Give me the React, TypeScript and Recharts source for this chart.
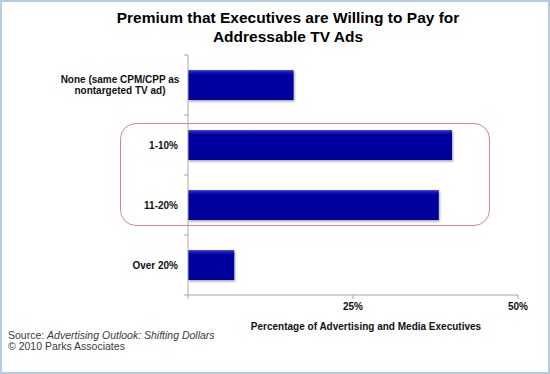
import React from "react"
import { BarChart, Bar, XAxis, YAxis, Label } from "recharts"

const categories = ["None (same CPM/CPP as\nnontargeted TV ad)", "1-10%", "11-20%", "Over 20%"]
const premiumShare = [16, 40, 38, 7]
const xTicks = [0, 25, 50]
const xTickLabels = ["", "25%", "50%"]

const data = categories.map((name, i) => ({ name, value: premiumShare[i] }))

const W = 550
const H = 374
const MARGIN = { top: 55, right: 32, bottom: 49, left: 8 }
const X_AXIS_H = 30
const Y_AXIS_W = 180
const AXIS_COLOR = "#a6a6a6"
const FONT = "'Liberation Sans', Arial, sans-serif"

const bandSize = (H - MARGIN.top - MARGIN.bottom - X_AXIS_H) / categories.length

function CategoryTick(props: any) {
  const { x, y, payload, index } = props
  const axisX = x + 10
  const lines = String(payload.value).split("\n")
  const multi = lines.length > 1
  return (
    <g>
      <line x1={axisX - 4} x2={axisX} y1={y - bandSize / 2} y2={y - bandSize / 2} stroke={AXIS_COLOR} />
      {index === categories.length - 1 && (
        <line x1={axisX - 4} x2={axisX} y1={y + bandSize / 2} y2={y + bandSize / 2} stroke={AXIS_COLOR} />
      )}
      <text
        x={multi ? x - 58 : x}
        y={y}
        textAnchor={multi ? "middle" : "end"}
        fontFamily={FONT}
        fontSize={10}
        fontWeight="bold"
        fill="#111"
      >
        {lines.map((l, i) => (
          <tspan key={i} x={multi ? x - 58 : x} dy={i === 0 ? (-(lines.length - 1) * 11) / 2 + 3.5 : 11}>
            {l}
          </tspan>
        ))}
      </text>
    </g>
  )
}

export default function App() {
  return (
    <div
      style={{
        position: "absolute",
        left: 0,
        top: 0,
        width: W,
        height: H,
        background: "#fff",
        border: "2px solid #b7cae4",
        boxSizing: "border-box",
        fontFamily: FONT,
      }}
    >
      <div
        style={{
          position: "absolute",
          left: 286,
          top: 6,
          transform: "translateX(-50%)",
          textAlign: "center",
          whiteSpace: "nowrap",
          fontSize: 15.5,
          fontWeight: "bold",
          lineHeight: "19px",
          color: "#000",
        }}
      >
        Premium that Executives are Willing to Pay for
        <br />
        Addressable TV Ads
      </div>

      <div style={{ position: "absolute", left: -2, top: -2 }}>
        <BarChart width={W} height={H} data={data} layout="vertical" margin={MARGIN} barCategoryGap="25%">
          <defs>
            <linearGradient id="barFill" x1="0" y1="0" x2="0" y2="1">
              <stop offset="0%" stopColor="#4a4ae8" />
              <stop offset="8%" stopColor="#1414b0" />
              <stop offset="15%" stopColor="#0606a0" />
              <stop offset="100%" stopColor="#04049a" />
            </linearGradient>
            <filter id="barShadow" x="-5%" y="-10%" width="115%" height="140%">
              <feDropShadow dx="1" dy="1.5" stdDeviation="0.8" floodColor="#000" floodOpacity="0.35" />
            </filter>
          </defs>
          <XAxis
            type="number"
            domain={[0, 50]}
            ticks={xTicks}
            tickFormatter={(v: number) => xTickLabels[xTicks.indexOf(v)] ?? ""}
            height={X_AXIS_H}
            stroke={AXIS_COLOR}
            tickSize={4}
            tickMargin={4}
            tick={{ fill: "#111", fontSize: 10, fontWeight: "bold", fontFamily: FONT }}
          >
            <Label
              value="Percentage of Advertising  and Media Executives"
              position="bottom"
              offset={-2}
              dx={13}
              style={{ fill: "#111", fontSize: 10, fontWeight: "bold", fontFamily: FONT, whiteSpace: "pre" }}
            />
          </XAxis>
          <YAxis
            type="category"
            dataKey="name"
            width={Y_AXIS_W}
            stroke={AXIS_COLOR}
            tickLine={false}
            tickSize={4}
            tickMargin={6}
            interval={0}
            tick={<CategoryTick />}
          />
          <Bar dataKey="value" fill="url(#barFill)" filter="url(#barShadow)" isAnimationActive={false} />
        </BarChart>
      </div>

      <div
        style={{
          position: "absolute",
          left: 118,
          top: 121,
          width: 370,
          height: 103,
          border: "1.5px solid #df8585",
          borderRadius: 16,
          boxSizing: "border-box",
        }}
      />

      <div
        style={{
          position: "absolute",
          left: 6,
          top: 328,
          fontSize: 10.5,
          lineHeight: "11px",
          color: "#3a3a3a",
          whiteSpace: "nowrap",
        }}
      >
        Source: <i>Advertising Outlook: Shifting Dollars</i>
        <br />© 2010 Parks Associates
      </div>
    </div>
  )
}
